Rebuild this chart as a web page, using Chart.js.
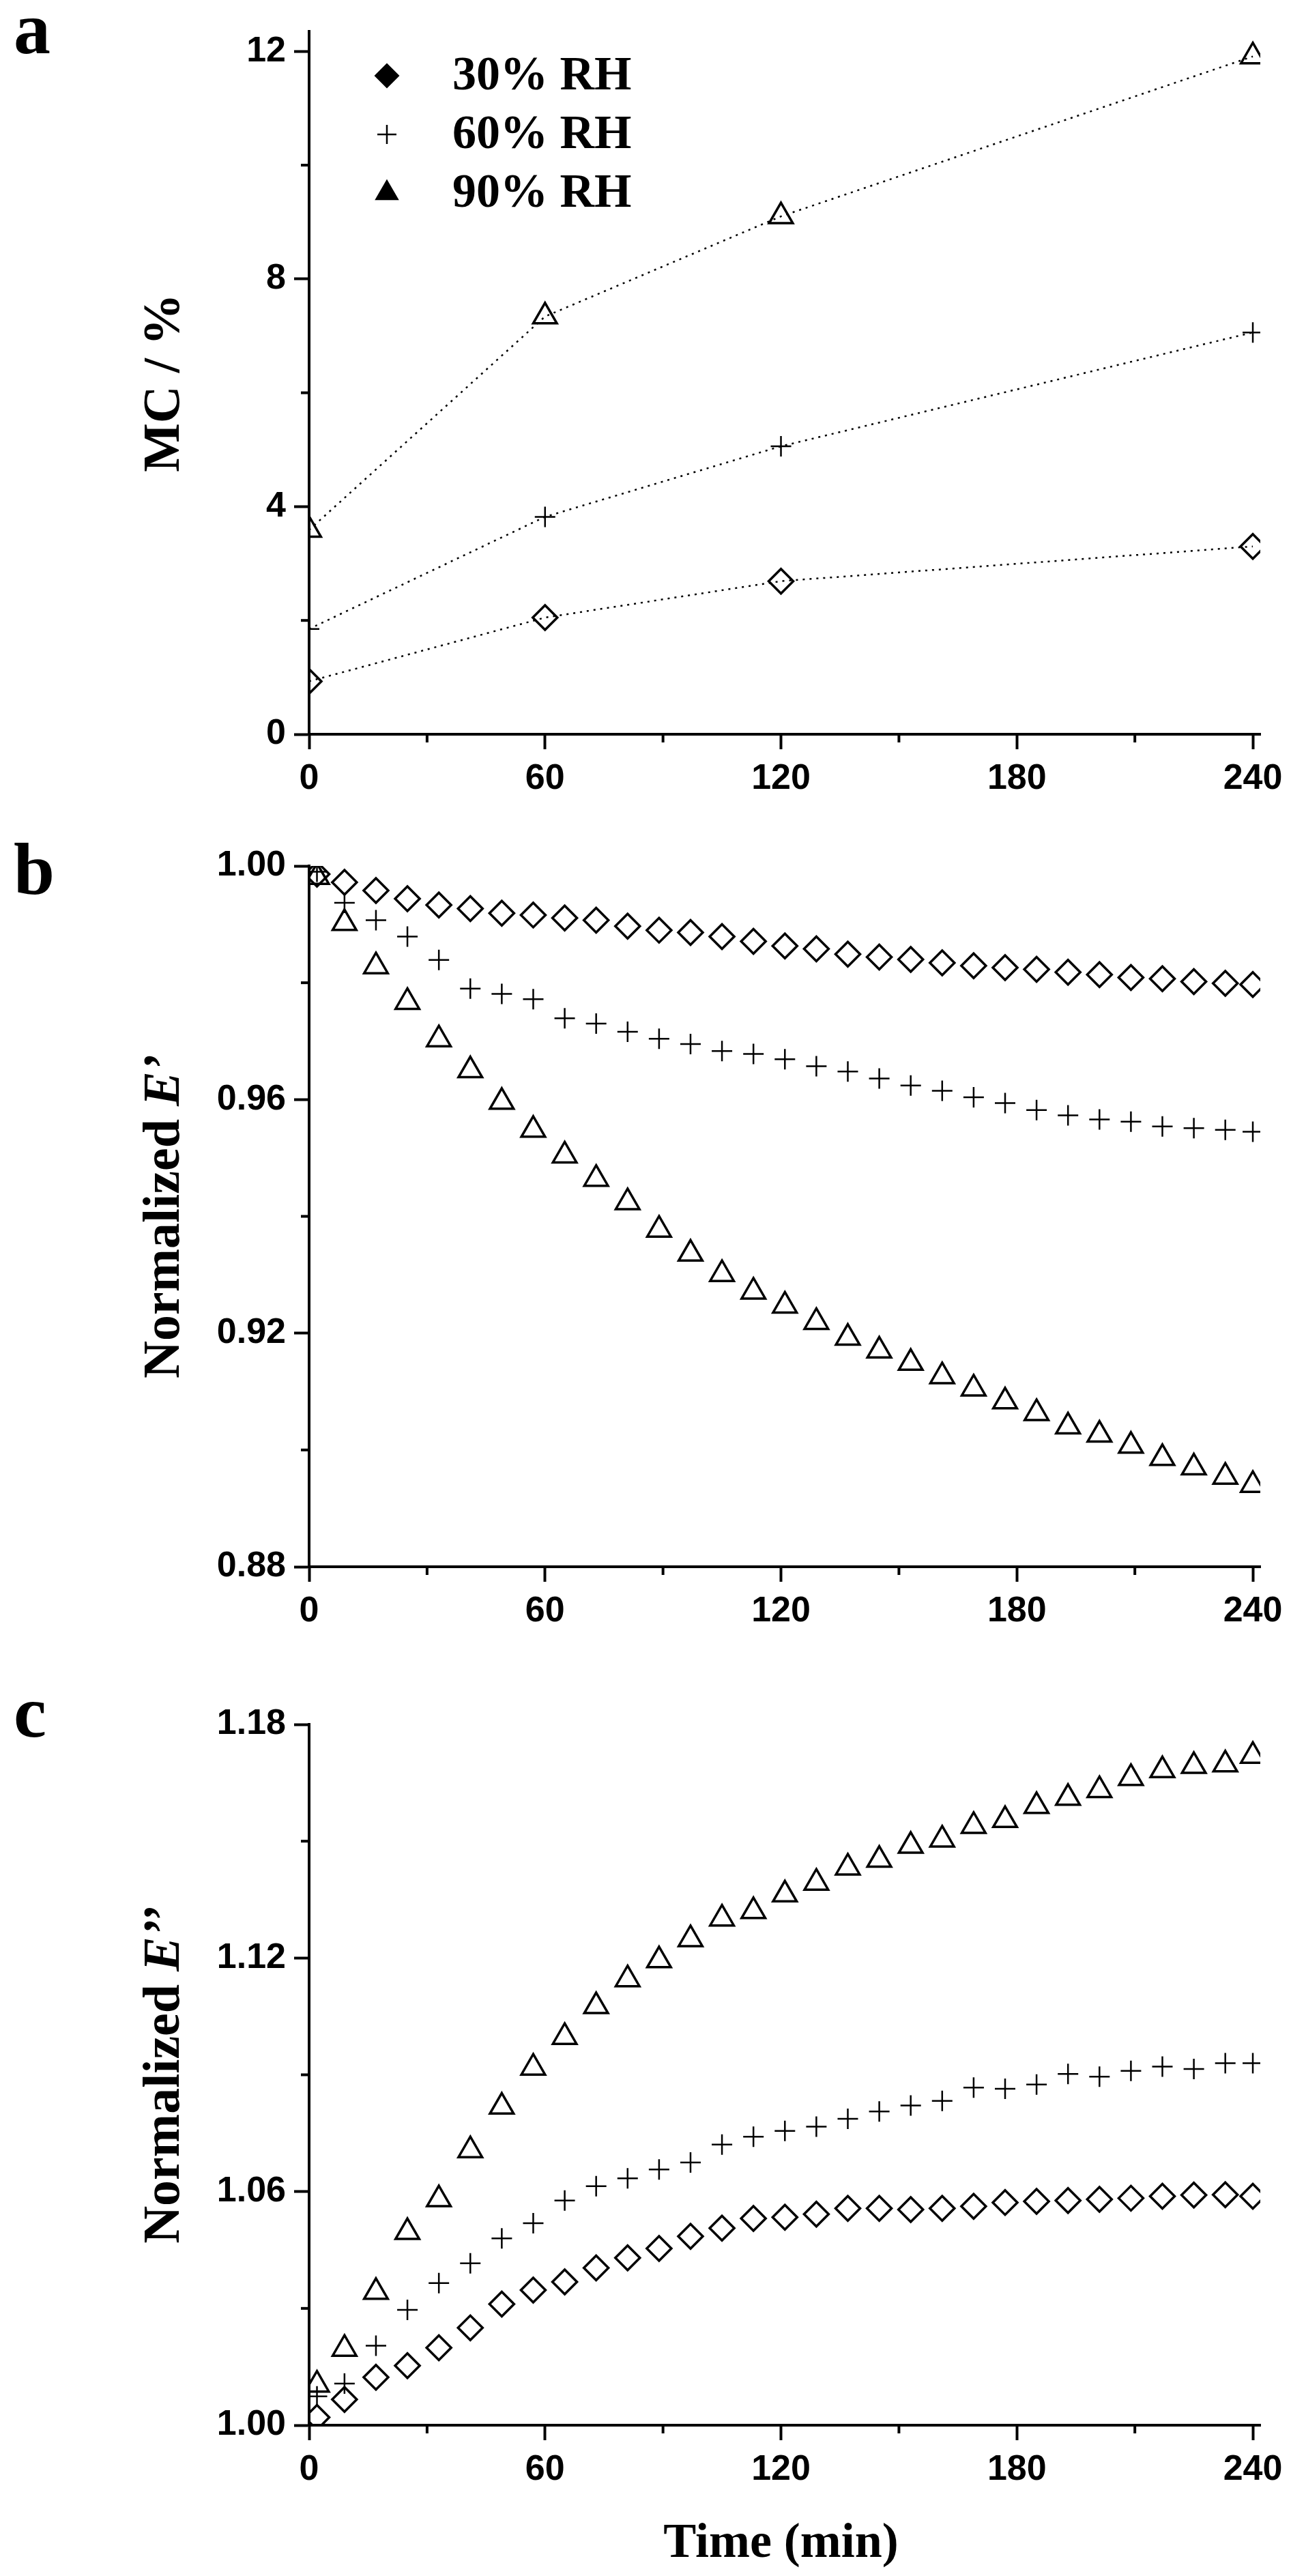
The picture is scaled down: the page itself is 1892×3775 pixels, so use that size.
<!DOCTYPE html>
<html><head><meta charset="utf-8">
<script src="https://cdn.jsdelivr.net/npm/chart.js@4.4.1/dist/chart.umd.min.js"></script>
<style>
html,body{margin:0;padding:0;background:#fff;}
body{width:1892px;height:3775px;position:relative;overflow:hidden;}
canvas{position:absolute;left:0;}
</style></head>
<body>
<canvas id="ca" width="1892" height="1200" style="top:0px"></canvas>
<canvas id="cb" width="1892" height="1220" style="top:1200px"></canvas>
<canvas id="cc" width="1892" height="1355" style="top:2420px"></canvas>
<script>
// ---------- data ----------
const seriesNames = ['30% RH', '60% RH', '90% RH'];
const timeA = [0, 60, 120, 240];
const mc30 = [0.93, 2.05, 2.69, 3.30];
const mc60 = [1.85, 3.82, 5.06, 7.06];
const mc90 = [3.59, 7.34, 9.10, 11.91];

const timeBC = [2, 9, 17, 25, 33, 41, 49, 57, 65, 73, 81, 89, 97, 105, 113, 121, 129, 137, 145, 153, 161, 169, 177, 185, 193, 201, 209, 217, 225, 233, 240];
const eStor30 = [0.9986,0.9972,0.9958,0.9944,0.9933,0.9927,0.9919,0.9916,0.9911,0.9907,0.9897,0.9890,0.9886,0.9879,0.9871,0.9863,0.9858,0.9849,0.9844,0.9840,0.9834,0.9829,0.9826,0.9823,0.9818,0.9814,0.9809,0.9807,0.9802,0.9799,0.9797];
const eStor60 = [0.9990,0.9937,0.9907,0.9879,0.9839,0.9790,0.9781,0.9772,0.9739,0.9730,0.9716,0.9704,0.9695,0.9683,0.9678,0.9669,0.9657,0.9648,0.9636,0.9624,0.9615,0.9604,0.9594,0.9582,0.9573,0.9566,0.9562,0.9554,0.9551,0.9548,0.9545];
const eStor90 = [0.9981,0.9902,0.9828,0.9767,0.9703,0.9650,0.9596,0.9548,0.9504,0.9464,0.9424,0.9377,0.9336,0.9301,0.9271,0.9247,0.9219,0.9192,0.9170,0.9149,0.9126,0.9105,0.9083,0.9063,0.9040,0.9026,0.9007,0.8986,0.8970,0.8954,0.8940];
const eLoss30 = [1.0020,1.0066,1.0123,1.0153,1.0199,1.0250,1.0311,1.0347,1.0368,1.0404,1.0430,1.0454,1.0485,1.0506,1.0531,1.0534,1.0542,1.0557,1.0557,1.0554,1.0557,1.0562,1.0572,1.0575,1.0577,1.0580,1.0583,1.0588,1.0591,1.0592,1.0588];
const eLoss60 = [1.0074,1.0107,1.0204,1.0296,1.0365,1.0416,1.0480,1.0519,1.0577,1.0614,1.0634,1.0657,1.0675,1.0721,1.0741,1.0756,1.0767,1.0787,1.0806,1.0821,1.0833,1.0867,1.0864,1.0875,1.0902,1.0895,1.0910,1.0921,1.0915,1.0930,1.0930];
const eLoss90 = [1.0104,1.0196,1.0342,1.0496,1.0580,1.0706,1.0818,1.0918,1.0997,1.1076,1.1145,1.1194,1.1248,1.1301,1.1320,1.1363,1.1393,1.1432,1.1452,1.1488,1.1504,1.1539,1.1554,1.1590,1.1611,1.1631,1.1662,1.1682,1.1693,1.1697,1.1719];

const xMajor = [0, 60, 120, 180, 240];
const xMinor = [30, 90, 150, 210];
const yMajorA = [0, 4, 8, 12], yMinorA = [2, 6, 10];
const yMajorB = [0.88, 0.92, 0.96, 1.00], yMinorB = [0.90, 0.94, 0.98];
const yMajorC = [1.00, 1.06, 1.12, 1.18], yMinorC = [1.03, 1.09, 1.15];

// ---------- helpers ----------
const styles = ['rectRot', 'cross', 'triangle'];
const radii = [18, 15, 20];
const widths = [3.5, 2.5, 3.5];
const tickFont = {family: "'Liberation Sans Narrow','Liberation Sans',Arial,sans-serif", weight: 'bold', size: 52};
const SERIF = "'Liberation Serif','Times New Roman',serif";

function pts(xs, ys){ return xs.map((x,i)=>({x:x, y:ys[i]})); }

function makeDatasets(xs, arrs, line){
  return arrs.map((ys,i)=>({
    label: seriesNames[i],
    data: pts(xs, ys),
    showLine: line,
    borderColor: '#000',
    borderWidth: 2.5,
    borderDash: [3, 7],
    pointStyle: styles[i],
    pointRadius: radii[i],
    pointHoverRadius: radii[i],
    pointBorderWidth: widths[i],
    pointBorderColor: '#000',
    pointBackgroundColor: 'rgba(0,0,0,0)',
    backgroundColor: 'rgba(0,0,0,0)',
    clip: 0
  }));
}

function build(id, cfg){
  const canvas = document.getElementById(id);
  const H = canvas.height;
  const minorPlugin = {
    id: 'extras',
    afterDraw(chart){
      const ctx = chart.ctx, xs = chart.scales.x, ys = chart.scales.y, ca = chart.chartArea;
      ctx.save();
      ctx.strokeStyle = '#000'; ctx.lineWidth = 4; ctx.lineCap = 'butt';
      cfg.xMinor.forEach(v=>{ const p = xs.getPixelForValue(v); ctx.beginPath(); ctx.moveTo(p, ca.bottom); ctx.lineTo(p, ca.bottom + 12); ctx.stroke(); });
      cfg.yMinor.forEach(v=>{ const p = ys.getPixelForValue(v); ctx.beginPath(); ctx.moveTo(ca.left, p); ctx.lineTo(ca.left - 12, p); ctx.stroke(); });
      // y title
      ctx.fillStyle = '#000';
      ctx.translate(242, (ca.top + ca.bottom)/2);
      ctx.rotate(-Math.PI/2);
      ctx.textBaseline = 'middle';
      const parts = cfg.yTitle;
      let total = 0;
      parts.forEach(p=>{ ctx.font = p[1] + ' 76px ' + SERIF; total += ctx.measureText(p[0]).width; });
      let cx = -total/2;
      parts.forEach(p=>{ ctx.font = p[1] + ' 76px ' + SERIF; ctx.textAlign = 'left'; ctx.fillText(p[0], cx, 0); cx += ctx.measureText(p[0]).width; });
      ctx.restore();
      // panel letter
      ctx.save();
      ctx.fillStyle = '#000';
      ctx.font = 'bold 108px ' + SERIF;
      ctx.textAlign = 'left'; ctx.textBaseline = 'alphabetic';
      ctx.fillText(cfg.letter, 20, cfg.letterBase);
      // x title
      if (cfg.xTitle){
        ctx.font = 'bold 72px ' + SERIF; ctx.textAlign = 'center';
        ctx.fillText(cfg.xTitle, (ca.left + xs.getPixelForValue(240))/2, cfg.xTitleBase);
      }
      // legend
      if (cfg.legend){
        chart.data.datasets.forEach((ds, i)=>{
          const y = 111 + i*86;
          ctx.strokeStyle = '#000'; ctx.lineWidth = widths[i];
          Chart.helpers.drawPoint(ctx, {pointStyle: styles[i], radius: [16, 14, 17][i], borderWidth: widths[i]}, 567, y);
          ctx.font = 'bold 70px ' + SERIF; ctx.textAlign = 'left'; ctx.textBaseline = 'middle';
          ctx.fillText(ds.label, 663, y + 2);
        });
      }
      ctx.restore();
    }
  };
  return new Chart(canvas, {
    type: 'scatter',
    data: {datasets: cfg.datasets},
    options: {
      responsive: false, animation: false, devicePixelRatio: 1,
      layout: {padding: {left: 0, right: 1892 - 1847, top: cfg.top, bottom: 0}},
      plugins: {legend: {display: false}, tooltip: {enabled: false}},
      scales: {
        x: {
          type: 'linear', min: 0, max: 241.9,
          afterBuildTicks(s){ s.ticks = xMajor.map(v=>({value: v})); },
          afterFit(s){ s.height = H - cfg.bottom; },
          ticks: {font: tickFont, color: '#000', padding: 12, maxRotation: 0, autoSkip: false, callback: v=>String(v)},
          grid: {drawOnChartArea: false, drawTicks: true, tickLength: 22, tickWidth: 4, color: '#000'},
          border: {display: true, color: '#000', width: 4}
        },
        y: {
          type: 'linear', min: cfg.ymin, max: cfg.ymax,
          afterBuildTicks(s){ s.ticks = cfg.yMajor.map(v=>({value: v})); },
          afterFit(s){ s.width = 453; },
          ticks: {font: tickFont, color: '#000', padding: 12, autoSkip: false, callback: v=>cfg.fmt(v)},
          grid: {drawOnChartArea: false, drawTicks: true, tickLength: 22, tickWidth: 4, color: '#000'},
          border: {display: true, color: '#000', width: 4}
        }
      }
    },
    plugins: [minorPlugin]
  });
}

build('ca', {
  datasets: makeDatasets(timeA, [mc30, mc60, mc90], true),
  top: 46, bottom: 1076, ymin: 0, ymax: 12.35,
  yMajor: yMajorA, yMinor: yMinorA, xMinor: xMinor,
  fmt: v=>String(Math.round(v)),
  yTitle: [['MC / %', 'bold']], letter: 'a', letterBase: 78, legend: true
});
build('cb', {
  datasets: makeDatasets(timeBC, [eStor30, eStor60, eStor90], false),
  top: 1269 - 1200, bottom: 2296 - 1200, ymin: 0.88, ymax: 1.00,
  yMajor: yMajorB, yMinor: yMinorB, xMinor: xMinor,
  fmt: v=>v.toFixed(2),
  yTitle: [['Normalized ', 'bold'], ['E\u2019', 'italic bold']], letter: 'b', letterBase: 1310 - 1200
});
build('cc', {
  datasets: makeDatasets(timeBC, [eLoss30, eLoss60, eLoss90], false),
  top: 2527 - 2420, bottom: 3554 - 2420, ymin: 1.00, ymax: 1.18,
  yMajor: yMajorC, yMinor: yMinorC, xMinor: xMinor,
  fmt: v=>v.toFixed(2),
  yTitle: [['Normalized ', 'bold'], ['E\u2019\u2019', 'italic bold']], letter: 'c', letterBase: 2545 - 2420,
  xTitle: 'Time (min)', xTitleBase: 3747 - 2420
});
</script>
</body></html>
